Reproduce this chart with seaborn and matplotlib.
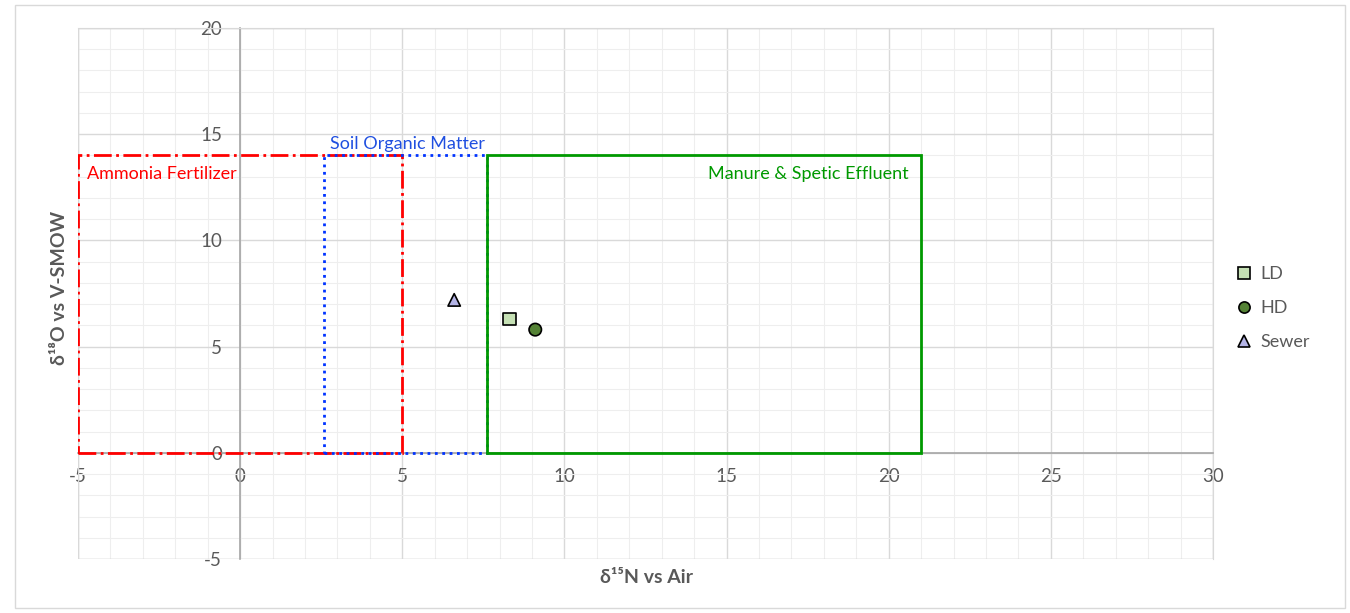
import matplotlib
matplotlib.use('Agg')

import matplotlib.pyplot as plt
from matplotlib.patches import Rectangle
from matplotlib.ticker import MultipleLocator
import pandas as pd
import seaborn as sns

# sample points (d15N, d18O)
samples = ["LD", "HD", "Sewer"]
d15n = [8.3, 9.1, 6.6]
d18o = [6.3, 5.8, 7.2]
sample_colors = {"LD": "#c5e0b4", "HD": "#548235", "Sewer": "#b4b4e6"}
sample_markers = {"LD": "s", "HD": "o", "Sewer": "^"}

# source boxes: name, x range, y range
source_names = ["Ammonia Fertilizer", "Soil Organic Matter", "Manure & Spetic Effluent"]
source_x = [(-5, 5), (2.6, 7.6), (7.6, 21)]
source_y = [(0, 14), (0, 14), (0, 14)]
source_colors = ["#ff0000", "#0033ff", "#009900"]
source_styles = ["-.", ":", "-"]

sns.set_style("white")
plt.rcParams['font.family'] = ['Lato', 'DejaVu Sans']
plt.rcParams['axes.unicode_minus'] = False

df = pd.DataFrame({"Sample": samples, "d15N": d15n, "d18O": d18o})

fig = plt.figure(figsize=(13.5, 6.13), dpi=100)
ax = fig.add_axes([0.0578, 0.0881, 0.8407, 0.8662])

# source boxes
for name, (x0, x1), (y0, y1), col, ls in zip(source_names, source_x, source_y,
                                              source_colors, source_styles):
    ax.add_patch(Rectangle((x0, y0), x1 - x0, y1 - y0, fill=False,
                           edgecolor=col, linestyle=ls, linewidth=2, zorder=3))

ax.text(source_x[0][0] + 0.28, source_y[0][1] - 0.85, source_names[0],
        color="#ff0000", fontsize=13, ha="left", va="center", zorder=4)
ax.text((source_x[1][0] + source_x[1][1]) / 2 + 0.05, source_y[1][1] + 0.55, source_names[1],
        color="#1f4fe0", fontsize=13, ha="center", va="center", zorder=4)
ax.text(source_x[2][1] - 0.4, source_y[2][1] - 0.85, source_names[2],
        color="#009900", fontsize=13, ha="right", va="center", zorder=4)

sns.scatterplot(data=df, x="d15N", y="d18O", hue="Sample", style="Sample",
                palette=sample_colors, markers=sample_markers, s=80,
                edgecolor="black", linewidth=1.2, ax=ax, zorder=5)

ax.set_xlim(-5, 30)
ax.set_ylim(-5, 20)
ax.xaxis.set_major_locator(MultipleLocator(5))
ax.yaxis.set_major_locator(MultipleLocator(5))
ax.xaxis.set_minor_locator(MultipleLocator(1))
ax.yaxis.set_minor_locator(MultipleLocator(1))
ax.grid(which="major", color="#d9d9d9", linewidth=1)
ax.grid(which="minor", color="#eeeeee", linewidth=0.8)
ax.set_axisbelow(True)

# axes cross at the origin like the original
ax.spines["left"].set_position(("data", 0))
ax.spines["bottom"].set_position(("data", 0))
for s in ["left", "bottom"]:
    ax.spines[s].set_color("#a6a6a6")
    ax.spines[s].set_linewidth(1.2)
for s in ["top", "right"]:
    ax.spines[s].set_color("#d9d9d9")
ax.add_patch(Rectangle((0, 0), 1, 1, transform=ax.transAxes, fill=False,
                       edgecolor="#d9d9d9", linewidth=1, zorder=1))
ax.tick_params(which="both", length=0, labelsize=13.5, labelcolor="#595959")
ax.tick_params(axis="y", pad=13)
ax.tick_params(axis="x", pad=11)

ax.set_xlabel("")
ax.set_ylabel("")
fig.text(0.479, 0.058, "δ¹⁵N vs Air", fontsize=14, fontweight="bold",
         color="#595959", ha="center", va="center")
fig.text(0.044, 0.53, "δ¹⁸O vs V-SMOW", fontsize=14, fontweight="bold",
         color="#595959", ha="center", va="center", rotation=90)

handles, labels = ax.get_legend_handles_labels()
ax.legend(handles, labels, loc="center left", bbox_to_anchor=(0.896, 0.497),
          bbox_transform=fig.transFigure, frameon=False, fontsize=13,
          handletextpad=-0.1, labelspacing=1.0, markerscale=0.9,
          labelcolor="#595959")

fig.patches.append(Rectangle((0.011, 0.008), 0.985, 0.984, transform=fig.transFigure,
                             fill=False, edgecolor="#d9d9d9", linewidth=1))

plt.savefig("out.png", dpi=100)
plt.close()
